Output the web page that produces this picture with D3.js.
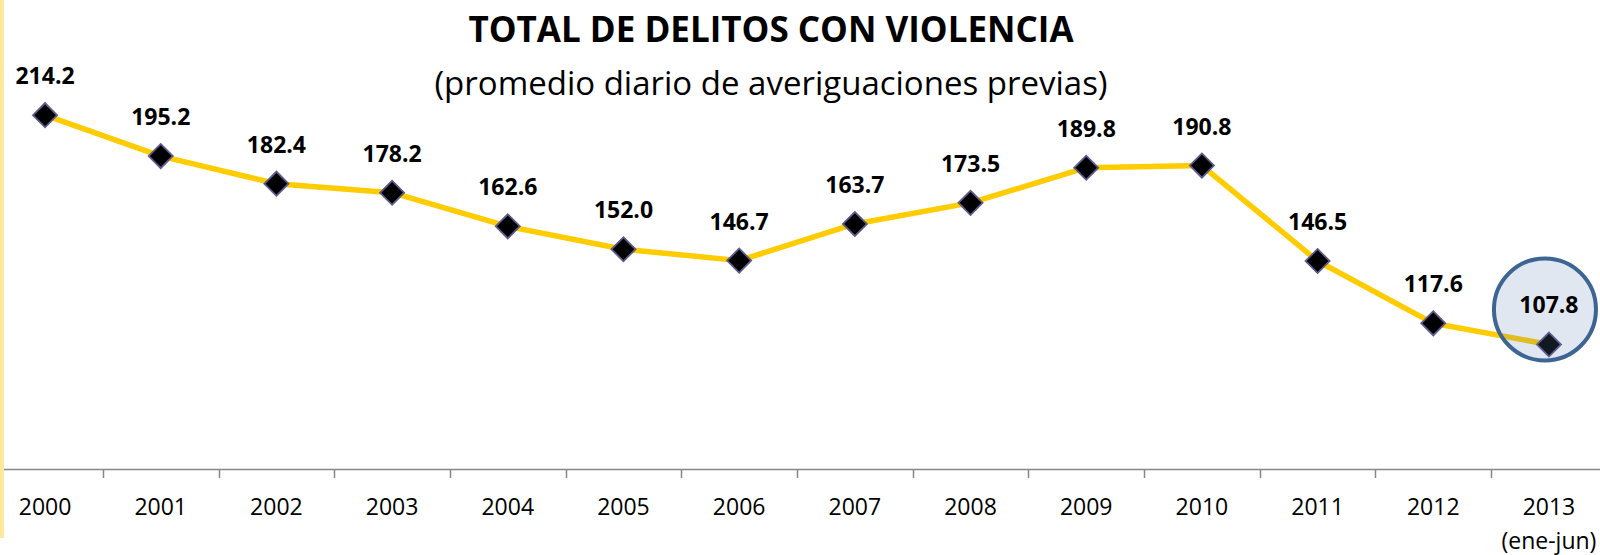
<!DOCTYPE html>
<html>
<head>
<meta charset="utf-8">
<script src="https://cdn.jsdelivr.net/npm/d3@7"></script>
<style>
  html, body { margin: 0; padding: 0; background: #ffffff; }
  svg { display: block; font-family: "Open Sans", sans-serif; }
</style>
</head>
<body>
<div id="chart"></div>
<script>
// data
const years = ["2000", "2001", "2002", "2003", "2004", "2005", "2006",
               "2007", "2008", "2009", "2010", "2011", "2012", "2013"];
const values = [214.2, 195.2, 182.4, 178.2, 162.6, 152.0, 146.7,
                163.7, 173.5, 189.8, 190.8, 146.5, 117.6, 107.8];
const yearNotes = { "2013": "(ene-jun)" };
const highlightYear = "2013";

const title = "TOTAL DE DELITOS CON VIOLENCIA";
const subtitle = "(promedio diario de averiguaciones previas)";

const width = 1600;
const height = 555;

const svg = d3.select("#chart").append("svg")
    .attr("width", width)
    .attr("height", height);

// scales
const x = d3.scaleBand()
    .domain(years)
    .range([-12.8, 1606.8]);

const y = d3.scaleLinear()
    .domain([50, 250])
    .range([469, 38]);

const cx = d => x(d) + x.bandwidth() / 2;

// x axis
const axis = svg.append("g")
    .attr("transform", "translate(0,469)")
    .call(d3.axisBottom(x).tickSize(0).tickPadding(0).tickSizeOuter(0));

axis.select(".domain")
    .attr("stroke", "#878787")
    .attr("stroke-width", 1.5);

axis.selectAll(".tick text").remove();

// tick marks between categories
svg.append("g")
    .selectAll("line")
    .data(years.slice(1))
    .join("line")
    .attr("x1", d => Math.round(x(d)) + 0.5)
    .attr("x2", d => Math.round(x(d)) + 0.5)
    .attr("y1", 469)
    .attr("y2", 478)
    .attr("stroke", "#878787")
    .attr("stroke-width", 1.5);

const yearLabels = svg.append("g")
    .selectAll("text")
    .data(years)
    .join("text")
    .attr("x", d => cx(d))
    .attr("y", 515)
    .attr("text-anchor", "middle")
    .attr("fill", "#000")
    .style("font-size", "23px")
    .text(d => d);

yearLabels.filter(d => yearNotes[d])
    .append("tspan")
    .attr("x", d => cx(d))
    .attr("dy", 34)
    .text(d => yearNotes[d]);

// line
const line = d3.line()
    .x((d, i) => cx(years[i]))
    .y(d => y(d));

svg.append("path")
    .datum(values)
    .attr("fill", "none")
    .attr("stroke", "#ffcc00")
    .attr("stroke-width", 5.5)
    .attr("stroke-linejoin", "round")
    .attr("d", line);

// diamond markers (rotated squares)
svg.append("g")
    .selectAll("path")
    .data(values)
    .join("path")
    .attr("transform", (d, i) => `translate(${cx(years[i])},${y(d)}) rotate(45)`)
    .attr("d", d3.symbol().type(d3.symbolSquare).size(290))
    .attr("fill", "#000")
    .attr("stroke", "#5d5a8c")
    .attr("stroke-width", 1.8);

// highlight circle on last point
const hiVal = values[years.indexOf(highlightYear)];
svg.append("circle")
    .attr("cx", cx(highlightYear) - 4)
    .attr("cy", y(hiVal) - 35)
    .attr("r", 51)
    .attr("fill", "#597eb3")
    .attr("fill-opacity", 0.19)
    .attr("stroke", "#3c6593")
    .attr("stroke-width", 4);

// value labels
svg.append("g")
    .selectAll("text")
    .data(values)
    .join("text")
    .attr("x", (d, i) => cx(years[i]))
    .attr("y", d => y(d) - 40)
    .attr("text-anchor", "middle")
    .attr("dominant-baseline", "central")
    .attr("fill", "#000")
    .style("font-size", "23px")
    .style("font-weight", "bold")
    .text(d => d.toFixed(1));

// titles
svg.append("text")
    .attr("x", 771)
    .attr("y", 42)
    .attr("text-anchor", "middle")
    .attr("fill", "#000")
    .style("font-size", "35px")
    .style("font-weight", "bold")
    .text(title);

svg.append("text")
    .attr("x", 771)
    .attr("y", 95)
    .attr("text-anchor", "middle")
    .attr("fill", "#000")
    .style("font-size", "33px")
    .text(subtitle);

// left border strip
svg.append("rect")
    .attr("x", 0)
    .attr("y", 0)
    .attr("width", 4)
    .attr("height", 538)
    .attr("fill", "#ffe89c");
</script>
</body>
</html>
